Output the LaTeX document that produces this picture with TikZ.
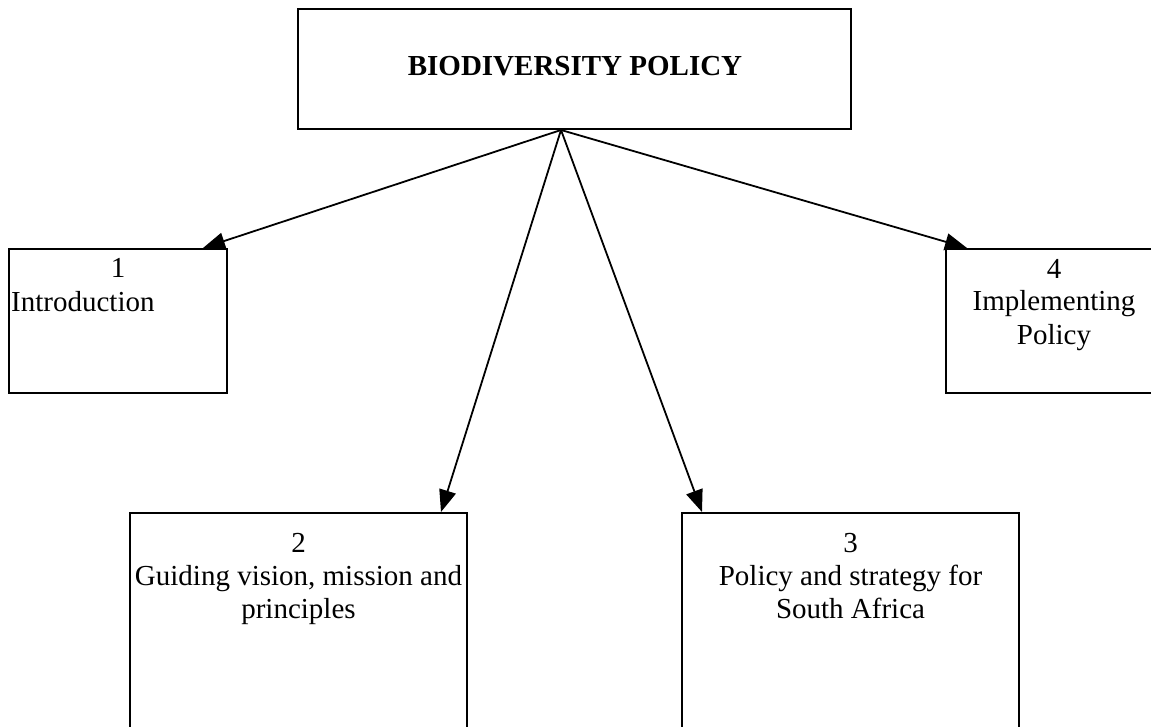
\documentclass[tikz,border=0pt]{standalone}
\usepackage{fontspec}
\setmainfont{Liberation Serif}
\usetikzlibrary{arrows.meta,calc}
\begin{document}
\begin{tikzpicture}[x=1pt,y=-1pt,
  box/.style={draw, line width=2pt, inner sep=0pt},
  lbl/.style={font=\fontsize{29}{33}\selectfont, inner sep=0pt, align=center},
  arr/.style={line width=1.8pt, -{Triangle[length=22pt,width=17pt]}}]
\useasboundingbox (0,0) rectangle (1151,727);
\begin{scope}
\clip (0,0) rectangle (1151,727);
\node[box, minimum width=553pt, minimum height=120pt] (top) at (574.5,69) {};
\node[box, minimum width=218pt, minimum height=144pt] (b1) at (118,321) {};
\node[box, minimum width=216pt, minimum height=144pt] (b4) at (1054,321) {};
\node[box, minimum width=337pt, minimum height=247pt] (b2) at (298.5,636.5) {};
\node[box, minimum width=337pt, minimum height=247pt] (b3) at (850.5,636.5) {};

\node[lbl, anchor=base, font=\fontsize{29}{33}\selectfont\bfseries] (t0) at (575,76) {BIODIVERSITY POLICY};
\node[lbl, anchor=base] (t1a) at (118,278) {1};
\node[lbl, anchor=base west] (t1b) at (11,312) {Introduction};
\node[lbl, anchor=base] (t4) at (1054,344) {4\\Implementing\\Policy};
\node[lbl, anchor=base] (t2) at (298.5,618) {2\\Guiding vision, mission and\\principles};
\node[lbl, anchor=base] (t3) at (850.5,618) {3\\Policy and strategy for\\South Africa};

\coordinate (apex) at ($(top.south west)+(264,0)$);
\draw[arr] (apex) -- ($(b1.north west)+(195,0)$);
\draw[arr] (apex) -- ($(b2.north west)+(312,0)$);
\draw[arr] (apex) -- ($(b3.north west)+(21,0)$);
\draw[arr] (apex) -- ($(b4.north west)+(22,0)$);
\end{scope}
\end{tikzpicture}
\end{document}
